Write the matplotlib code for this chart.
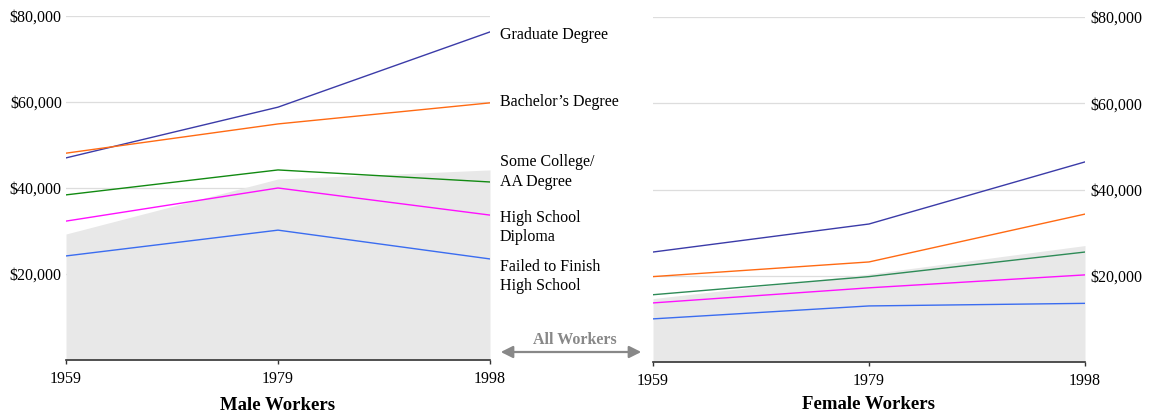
import matplotlib.pyplot as plt
from matplotlib.patches import FancyArrowPatch
from matplotlib.ticker import FixedLocator

plt.rcParams["font.family"] = ["Liberation Serif", "DejaVu Serif"]

YEARS = ["1959", "1979", "1998"]
SERIES = ["Graduate Degree", "Bachelor\u2019s Degree", "Some College/\nAA Degree",
          "High School\nDiploma", "Failed to Finish\nHigh School"]

MALE_GRADUATE = [47000, 58800, 76300]
MALE_BACHELOR = [48100, 54900, 59800]
MALE_COLLEGE = [38400, 44200, 41400]
MALE_HIGHSCHOOL = [32300, 40000, 33700]
MALE_FAILED = [24200, 30200, 23500]
MALE_ALL = [29300, 42100, 44200]

FEMALE_GRADUATE = [25500, 32000, 46400]
FEMALE_BACHELOR = [19800, 23200, 34300]
FEMALE_COLLEGE = [15600, 19800, 25500]
FEMALE_HIGHSCHOOL = [13700, 17200, 20200]
FEMALE_FAILED = [10000, 13000, 13600]
FEMALE_ALL = [14700, 20400, 27000]

# label positions (y in data units) next to the male panel
LABEL_Y = [75600, 60000, 43700, 30850, 19450]

MALE_COLORS = ["#3b3ba8", "#ff6a13", "#128a12", "#ff10ff", "#3a6cf0"]
FEMALE_COLORS = ["#3b3ba8", "#ff6a13", "#2e8b57", "#ff10ff", "#3a6cf0"]
TICKS = [20000, 40000, 60000, 80000]
FS = 11.5


def style_axis(ax, side):
    ax.set_xlim(0, len(YEARS) - 1)
    ax.set_ylim(0, 80000)
    ax.yaxis.set_major_locator(FixedLocator(TICKS))
    ax.set_yticklabels([f"${t:,}" for t in TICKS], fontsize=FS)
    ax.set_xticks(list(range(len(YEARS))))
    ax.set_xticklabels(YEARS, fontsize=FS)
    ax.grid(axis="y", color="#dddddd", linewidth=0.9)
    ax.set_axisbelow(True)
    for s in ["top", "left", "right"]:
        ax.spines[s].set_visible(False)
    ax.spines["bottom"].set_color("#333333")
    ax.spines["bottom"].set_linewidth(1.2)
    ax.tick_params(axis="x", length=3, width=1, color="#333333", pad=5)
    ax.tick_params(axis="y", length=0, pad=3)
    if side == "right":
        ax.yaxis.tick_right()
        ax.tick_params(axis="y", length=0, pad=4)


fig = plt.figure(figsize=(11.51, 4.13), dpi=100)
ax1 = fig.add_axes([66 / 1151, 1 - 360 / 413, 424 / 1151, 344 / 413])
ax2 = fig.add_axes([653 / 1151, 1 - 362 / 413, 432 / 1151, 345 / 413])

x = list(range(len(YEARS)))
male = [MALE_GRADUATE, MALE_BACHELOR, MALE_COLLEGE, MALE_HIGHSCHOOL, MALE_FAILED]
female = [FEMALE_GRADUATE, FEMALE_BACHELOR, FEMALE_COLLEGE, FEMALE_HIGHSCHOOL, FEMALE_FAILED]

ax1.fill_between(x, 0, MALE_ALL, color="#e8e8e8", linewidth=0, zorder=1)
for vals, c in zip(male, MALE_COLORS):
    ax1.plot(x, vals, color=c, linewidth=1, zorder=3)
ax2.fill_between(x, 0, FEMALE_ALL, color="#e8e8e8", linewidth=0, zorder=1)
for vals, c in zip(female, FEMALE_COLORS):
    ax2.plot(x, vals, color=c, linewidth=1, zorder=3)

style_axis(ax1, "left")
style_axis(ax2, "right")

ax1.set_xlabel("Male Workers", fontsize=13.5, fontweight="bold", labelpad=7)
ax2.set_xlabel("Female Workers", fontsize=13.5, fontweight="bold", labelpad=5)

for name, y in zip(SERIES, LABEL_Y):
    ax1.annotate(name, xy=(2, y), xytext=(7, 0), textcoords="offset points",
                 fontsize=FS, va="center", ha="left", linespacing=1.3,
                 annotation_clip=False)

# "All Workers" double arrow between the panels
fig.patches.append(FancyArrowPatch(
    (498 / 1151, 1 - 352 / 413), (644 / 1151, 1 - 352 / 413),
    transform=fig.transFigure, arrowstyle="<|-|>", mutation_scale=18,
    color="#888888", linewidth=1.6))
fig.text(575 / 1151, 1 - 340 / 413, "All Workers", ha="center", va="center",
         fontsize=FS, fontweight="bold", color="#888888")

fig.savefig("out.png", dpi=100)
